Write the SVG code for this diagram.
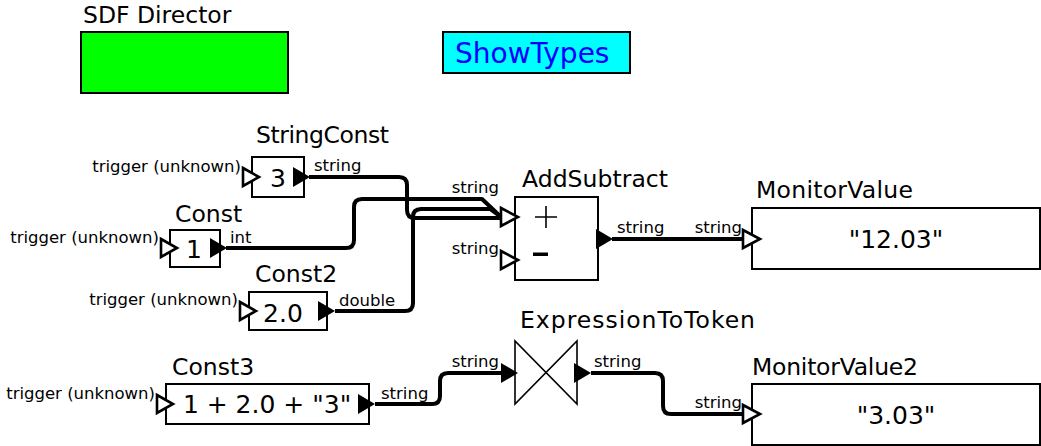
<svg xmlns="http://www.w3.org/2000/svg" width="1041" height="446" viewBox="0 0 1041 446">
  <style>
    text { font-family: "DejaVu Sans", "Noto Sans", sans-serif; fill: #000; }
    .name { font-size: 23.5px; }
    .val { font-size: 25px; text-anchor: middle; }
    .port { font-size: 16.5px; }
    .end { text-anchor: end; }
    .box { fill: #fff; stroke: #000; stroke-width: 2; }
    .in { fill: #fff; stroke: #000; stroke-width: 2.6; stroke-linejoin: miter; }
    .out { fill: #000; stroke: none; }
    .wire { fill: none; stroke: #000; stroke-width: 4; stroke-linejoin: round; }
  </style>

  <!-- director and utility attribute -->
  <g id="sdf-director">
    <text class="name" x="83" y="23">SDF Director</text>
    <rect x="81" y="32" width="207" height="61" fill="#00ff00" stroke="#000" stroke-width="2"/>
  </g>
  <g id="show-types">
    <rect x="443" y="32" width="187" height="41" fill="#00ffff" stroke="#000" stroke-width="2"/>
    <text x="455" y="63" font-size="28" style="fill:#0000ff">ShowTypes</text>
  </g>

  <!-- connections -->
  <g id="connectors">
    <path class="wire" d="M309,177 H399 Q407,177 407,185 V210 Q407,218 415,218 H501"/>
    <path class="wire" d="M226,248 H346 Q354,248 354,240 V207 Q354,199 362,199 H482 L501,217"/>
    <path class="wire" d="M335,311 H405 Q413,311 413,303 V217 Q413,209 421,209 H490 L501,217"/>
    <path class="wire" d="M612,239 H743"/>
    <path class="wire" d="M375,404 H432 Q440,404 440,396 V381 Q440,373 448,373 H501"/>
    <path class="wire" d="M591,373 H655 Q663,373 663,381 V406 Q663,414 671,414 H743"/>
  </g>

  <g id="string-const">
    <text class="name" x="256" y="143" textLength="133">StringConst</text>
    <rect class="box" x="252" y="157" width="52" height="40"/>
    <text class="val" x="278" y="187">3</text>
    <polygon class="in" points="243,168 259,177 243,186"/>
    <polygon class="out" points="293,167 310,177 293,187"/>
    <text class="port end" x="241" y="172">trigger (unknown)</text>
    <text class="port" x="314" y="171">string</text>
  </g>

  <g id="const">
    <text class="name" x="175" y="222">Const</text>
    <rect class="box" x="170" y="230" width="50" height="37"/>
    <text class="val" x="194" y="258">1</text>
    <polygon class="in" points="161,239 177,248 161,257"/>
    <polygon class="out" points="210,238 227,248 210,258"/>
    <text class="port end" x="159" y="243">trigger (unknown)</text>
    <text class="port" x="230" y="243">int</text>
  </g>

  <g id="const2">
    <text class="name" x="255" y="282">Const2</text>
    <rect class="box" x="249" y="292" width="78" height="38"/>
    <text class="val" x="283" y="322">2.0</text>
    <polygon class="in" points="240,302 256,311 240,320"/>
    <polygon class="out" points="318,301 335,311 318,321"/>
    <text class="port end" x="238" y="305">trigger (unknown)</text>
    <text class="port" x="339" y="306">double</text>
  </g>

  <g id="add-subtract">
    <text class="name" x="522" y="187" textLength="146">AddSubtract</text>
    <rect class="box" x="515" y="197" width="83" height="83"/>
    <path d="M535,217 H557 M546,206 V228" stroke="#000" stroke-width="1.6" fill="none"/>
    <rect x="533" y="252.5" width="15" height="3.5" fill="#000"/>
    <polygon class="in" points="501,208 518,217 501,226"/>
    <polygon class="in" points="501,251 518,260 501,269"/>
    <polygon class="out" points="596,229 613,239 596,249"/>
    <text class="port end" x="499" y="193">string</text>
    <text class="port end" x="499" y="254">string</text>
    <text class="port" x="617" y="233">string</text>
  </g>

  <g id="monitor-value">
    <text class="name" x="756" y="198" textLength="157">MonitorValue</text>
    <rect class="box" x="752" y="208" width="288" height="61"/>
    <text class="val" x="896" y="248">"12.03"</text>
    <polygon class="in" points="743,230 760,239 743,248"/>
    <text class="port end" x="742" y="233">string</text>
  </g>

  <g id="const3">
    <text class="name" x="172" y="375">Const3</text>
    <rect class="box" x="166" y="384" width="203" height="40"/>
    <text class="val" x="267" y="413">1 + 2.0 + "3"</text>
    <polygon class="in" points="157,395 173,404 157,413"/>
    <polygon class="out" points="358,394 375,404 358,414"/>
    <text class="port end" x="155" y="399">trigger (unknown)</text>
    <text class="port" x="381" y="399">string</text>
  </g>

  <g id="expression-to-token">
    <text class="name" x="520" y="328" textLength="235">ExpressionToToken</text>
    <path d="M515,341 V404 L577,341 V404 Z" fill="#fff" stroke="#000" stroke-width="1.6" stroke-linejoin="miter"/>
    <polygon class="out" points="501,363 518,373 501,383"/>
    <polygon class="out" points="574,363 591,373 574,383"/>
    <text class="port end" x="499" y="367">string</text>
    <text class="port" x="594" y="367">string</text>
  </g>

  <g id="monitor-value2">
    <text class="name" x="752" y="375" textLength="166">MonitorValue2</text>
    <rect class="box" x="752" y="384" width="288" height="61"/>
    <text class="val" x="896" y="424">"3.03"</text>
    <polygon class="in" points="743,405 760,414 743,423"/>
    <text class="port end" x="742" y="408">string</text>
  </g>
</svg>
